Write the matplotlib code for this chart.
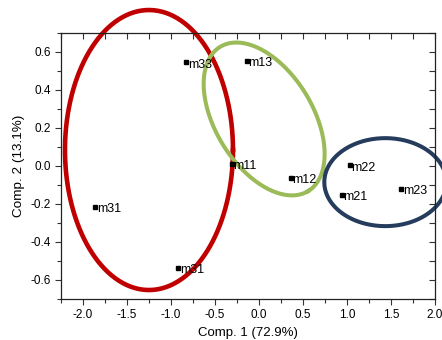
import numpy as np
import matplotlib
matplotlib.use("Agg")
import matplotlib.pyplot as plt
from matplotlib.ticker import MultipleLocator, FormatStrFormatter

plt.rcParams['font.family'] = ['Liberation Sans', 'DejaVu Sans']

# Scores (PCA)
etiquetas = ["m33", "m13", "m11", "m12", "m22", "m21", "m23", "m31", "m31"]
comp1 = [-0.83, -0.14, -0.31, 0.36, 1.03, 0.94, 1.62, -1.86, -0.92]
comp2 = [0.545, 0.553, 0.012, -0.061, 0.003, -0.151, -0.121, -0.214, -0.536]

# Grupos (centro x, centro y, semieje px, semieje px, angulo, color, grosor)
grupos = [
    (-1.25, 0.084, 84, 140, 0, "#C00000", 3.3),
    (0.059, 0.2475, 84.5, 48.6, -58.6, "#9BBB59", 2.9),
    (1.436, -0.085, 61, 44, 0, "#253C5C", 2.9),
]

fig = plt.figure(figsize=(4.42, 3.40), dpi=100)
ax = fig.add_axes([0.138, 0.1206, 0.846, 0.7824])

ax.set_xlim(-2.25, 2.0)
ax.set_ylim(-0.7, 0.7)

# px por unidad, para dibujar las elipses rotadas en pantalla
sx = 0.846 * 442 / 4.25
sy = 0.7824 * 340 / 1.4

t = np.linspace(0, 2 * np.pi, 400)
for cx, cy, a, b, ang, col, lw in grupos:
    th = np.deg2rad(ang)
    px = a * np.cos(t) * np.cos(th) - b * np.sin(t) * np.sin(th)
    py = a * np.cos(t) * np.sin(th) + b * np.sin(t) * np.cos(th)
    ax.plot(cx + px / sx, cy + py / sy, color=col, lw=lw, clip_on=False, zorder=2)

ax.plot(comp1, comp2, 's', color='black', ms=3.2, zorder=3, clip_on=False)
for x, y, lab in zip(comp1, comp2, etiquetas):
    ax.text(x + 0.02, y - 0.012, lab, fontsize=9, va='center', ha='left', zorder=4)

ax.set_xlabel("Comp. 1 (72.9%)", fontsize=9.5)
ax.xaxis.set_label_coords(0.5, -0.106, transform=ax.transAxes)
ax.xaxis.label.set_va('top')
ax.set_ylabel("Comp. 2 (13.1%)", fontsize=9.7, labelpad=4)

ax.xaxis.set_major_locator(MultipleLocator(0.5))
ax.xaxis.set_minor_locator(MultipleLocator(0.25))
ax.yaxis.set_major_locator(MultipleLocator(0.2))
ax.yaxis.set_minor_locator(MultipleLocator(0.1))
ax.xaxis.set_major_formatter(FormatStrFormatter('%.1f'))
ax.yaxis.set_major_formatter(FormatStrFormatter('%.1f'))

ax.tick_params(which='both', direction='out', width=0.8, color='#333333', labelsize=8.5)
ax.tick_params(which='major', length=4)
ax.tick_params(which='minor', length=3)

# ejes secundarios: marcas hacia dentro
top = ax.secondary_xaxis('top')
top.xaxis.set_major_locator(MultipleLocator(0.25))
top.tick_params(direction='in', length=4, width=0.8, color='#333333', labeltop=False)
right = ax.secondary_yaxis('right')
right.yaxis.set_major_locator(MultipleLocator(0.1))
right.tick_params(direction='in', length=4, width=0.8, color='#333333', labelright=False)

for sp in ax.spines.values():
    sp.set_linewidth(0.9)
    sp.set_color('#222222')
top.spines['top'].set_visible(False)
right.spines['right'].set_visible(False)

fig.savefig("out.png", dpi=100)
